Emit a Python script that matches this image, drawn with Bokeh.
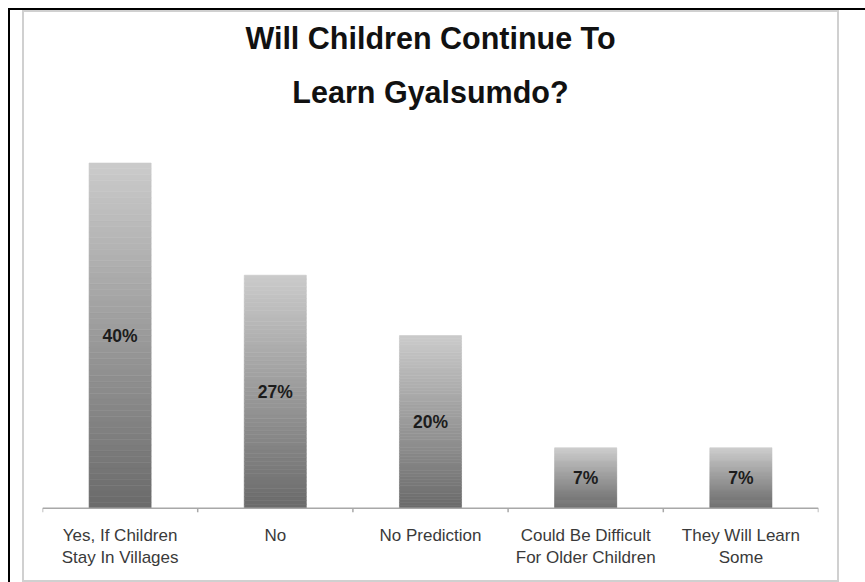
import numpy as np
from bokeh.plotting import figure
from bokeh.models import (ColumnDataSource, Range1d, LinearAxis,
                          FixedTicker, Title)
from bokeh.core.properties import value
from bokeh.embed import file_html
from bokeh.resources import INLINE

# ---- data ----
categories = ["Yes, If Children\nStay In Villages", "No", "No Prediction",
              "Could Be Difficult\nFor Older Children", "They Will Learn\nSome"]
percentages = [40, 27, 20, 7, 7]
value_labels = ["40%", "27%", "20%", "7%", "7%"]
title_lines = ["Will Children Continue To", "Learn Gyalsumdo?"]

FONT = "Liberation Sans"
W, H = 865, 582

n = len(categories)
centres = [i + 0.5 for i in range(n)]      # category slot centres
bounds = list(range(n + 1))                 # slot boundaries (tick marks)

# ---- gradient slices for each bar (light top -> dark bottom) ----
N = 60
light = np.array([0xcb, 0xcb, 0xcb], dtype=float)
dark = np.array([0x6a, 0x6a, 0x6a], dtype=float)
xs, bots, tops, cols = [], [], [], []
for cx, v in zip(centres, percentages):
    for i in range(N):
        t = (i + 0.5) / N
        c = dark + (light - dark) * t
        xs.append(cx)
        bots.append(v * i / N)
        tops.append(v * (i + 1) / N)
        cols.append("#%02x%02x%02x" % tuple(int(round(k)) for k in c))
bar_src = ColumnDataSource(dict(x=xs, b=bots, t=tops, c=cols))

lab_src = ColumnDataSource(dict(x=centres,
                                y=[v / 2 for v in percentages],
                                label=value_labels))

# page decorations (black top/left rule, grey panel frame) as CSS backgrounds
BLACK, GREY = "#000000", "#d0d0d0"
deco = [  # (colour, left, top, width, height) in px
    (BLACK, 8, 8, W - 8, 2),
    (BLACK, 8, 8, 2, H - 8),
    (GREY, 22, 10, 817, 2),
    (GREY, 22, 10, 2, 572),
    (GREY, 837, 10, 2, 572),
    (GREY, 22, 580, 817, 2),
]
styles = {
    "background-color": "#ffffff",
    "background-repeat": "no-repeat",
    "background-image": ", ".join(f"linear-gradient({c}, {c})" for c, *_ in deco),
    "background-position": ", ".join(f"{l}px {t}px" for _, l, t, _w, _h in deco),
    "background-size": ", ".join(f"{w}px {h}px" for *_, w, h in deco),
}

TICK = 0.5  # tick length below baseline, in value units
p = figure(x_range=Range1d(0, n), y_range=Range1d(-TICK, 44),
           width=W, height=H, output_backend="svg", toolbar_location=None,
           x_axis_location=None, y_axis_location=None,
           min_border_left=42, min_border_right=47,
           min_border_top=128, min_border_bottom=70)
p.styles = styles
p.outline_line_color = None
p.xgrid.visible = False
p.ygrid.visible = False
p.background_fill_color = "white"
p.border_fill_color = None

p.vbar(x="x", bottom="b", top="t", width=0.4, fill_color="c", line_color="c",
       line_width=0.6, source=bar_src)

p.text(x="x", y="y", text="label", source=lab_src,
       text_font=value(FONT), text_font_style="bold", text_font_size="17.5px",
       text_align="center", text_baseline="middle", text_color="#1c1c1c")

# baseline and boundary tick marks
p.segment(x0=0, y0=0, x1=n, y1=0, line_color="#a8a8a8", line_width=1.5)
p.segment(x0=bounds, y0=[0] * len(bounds), x1=bounds, y1=[-TICK] * len(bounds),
          line_color="#a8a8a8", line_width=1.5)

# axis carrying the category labels at slot centres
cat_axis = LinearAxis(ticker=FixedTicker(ticks=centres),
                      major_label_overrides={c: lab for c, lab in zip(centres, categories)},
                      axis_line_color=None, major_tick_line_color=None,
                      minor_tick_line_color=None,
                      major_label_text_font=FONT,
                      major_label_text_font_size="17px",
                      major_label_text_line_height=1.2,
                      major_label_text_color="#3a3a3a",
                      major_label_standoff=7)
p.add_layout(cat_axis, "below")

# two title lines (inner line added first)
p.add_layout(Title(text=title_lines[1], align="center", text_font=FONT,
                   text_font_size="30.5px", text_font_style="bold",
                   text_color="#111111", standoff=40), "above")
p.add_layout(Title(text=title_lines[0], align="center", text_font=FONT,
                   text_font_size="30.5px", text_font_style="bold",
                   text_color="#111111", standoff=-5), "above")

open("out.html", "w").write(file_html(p, INLINE))
